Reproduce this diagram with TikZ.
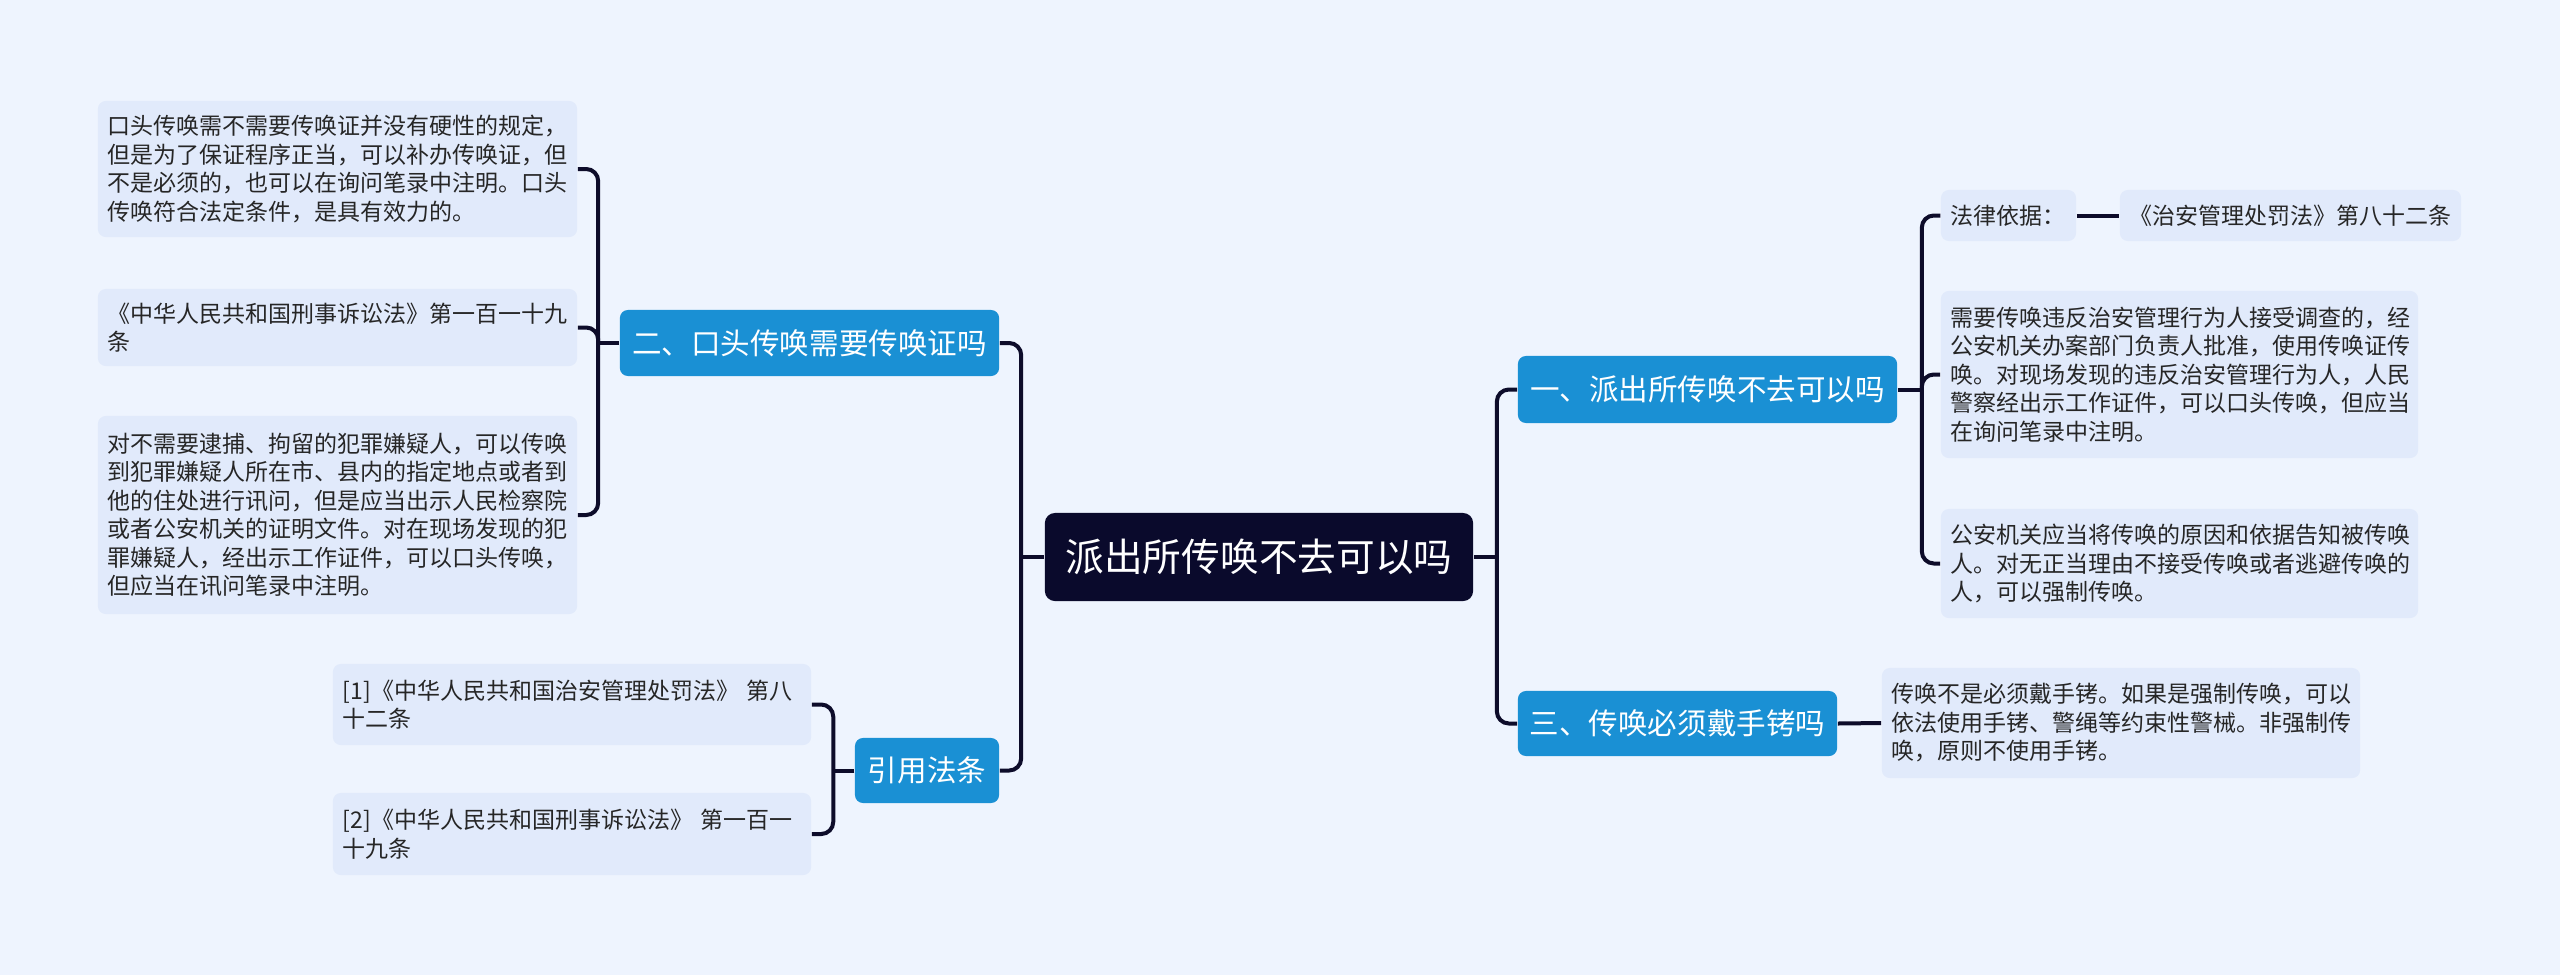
\documentclass[tikz,border=0pt]{standalone}
\usepackage{fontspec}
\newfontfamily\cjk{Noto Sans CJK SC}
\definecolor{bgblue}{HTML}{EEF4FE}
\definecolor{leafblue}{HTML}{E1EAFB}
\definecolor{branchblue}{HTML}{1A90D4}
\definecolor{rootnavy}{HTML}{0A0A2C}
\definecolor{linknavy}{HTML}{0D0C2A}
\tikzset{
	leaf/.style={fill=leafblue, text=black!85, rounded corners=0.08cm, inner xsep=0.1cm, inner ysep=0pt, align=left, font=\cjk\fontsize{6.54}{8.1}\selectfont},
	branch/.style={fill=branchblue, text=white, rounded corners=0.08cm, inner sep=0pt, font=\cjk\fontsize{8.4}{10}\selectfont},
	topic/.style={fill=rootnavy, text=white, rounded corners=0.1cm, inner sep=0pt, font=\cjk\fontsize{11}{13}\selectfont},
	link/.style={draw=linknavy, line width=0.04cm, rounded corners=0.12cm},
}
\begin{document}
\begin{tikzpicture}[x=0.01cm, y=-0.01cm]
	\fill[bgblue] (0,0) rectangle (2560,975);
	\useasboundingbox (0,0) rectangle (2560,975);

	% 中心主题
	\node[topic, minimum width=4.28cm, minimum height=0.88cm] (root) at (1259,557) {派出所传唤不去可以吗};

	% 右侧分支
	\node[branch, minimum width=3.79cm, minimum height=0.67cm] (b1) at (1707.5,389.5) {一、派出所传唤不去可以吗};
	\node[branch, minimum width=3.19cm, minimum height=0.65cm] (b3) at (1677.5,723.5) {三、传唤必须戴手铐吗};

	% 左侧分支
	\node[branch, minimum width=3.79cm, minimum height=0.66cm] (b2) at (809.5,343) {二、口头传唤需要传唤证吗};
	\node[branch, minimum width=1.44cm, minimum height=0.65cm] (b4) at (927,770.5) {引用法条};

	% 一、的子节点
	\node[leaf, text width=1.15cm, minimum height=0.51cm] (fa) at (2008.5,215.5) {法律依据：};
	\node[leaf, text width=3.21cm, minimum height=0.51cm] (zh) at (2290.5,215.5) {《治安管理处罚法》第八十二条};
	\node[leaf, text width=4.57cm, minimum height=1.67cm] (la) at (2179.5,374.5) {需要传唤违反治安管理行为人接受调查的，经\\公安机关办案部门负责人批准，使用传唤证传\\唤。对现场发现的违反治安管理行为人，人民\\警察经出示工作证件，可以口头传唤，但应当\\在询问笔录中注明。};
	\node[leaf, text width=4.57cm, minimum height=1.09cm] (lb) at (2179.5,563.5) {公安机关应当将传唤的原因和依据告知被传唤\\人。对无正当理由不接受传唤或者逃避传唤的\\人，可以强制传唤。};

	% 三、的子节点
	\node[leaf, text width=4.58cm, minimum height=1.10cm] (hc) at (2121,723) {传唤不是必须戴手铐。如果是强制传唤，可以\\依法使用手铐、警绳等约束性警械。非强制传\\唤，原则不使用手铐。};

	% 二、的子节点
	\node[leaf, text width=4.59cm, minimum height=1.36cm] (l1) at (337.5,169) {口头传唤需不需要传唤证并没有硬性的规定，\\但是为了保证程序正当，可以补办传唤证，但\\不是必须的，也可以在询问笔录中注明。口头\\传唤符合法定条件，是具有效力的。};
	\node[leaf, text width=4.59cm, minimum height=0.77cm] (l2) at (337.5,327.5) {《中华人民共和国刑事诉讼法》第一百一十九\\条};
	\node[leaf, text width=4.59cm, minimum height=1.98cm] (l3) at (337.5,515) {对不需要逮捕、拘留的犯罪嫌疑人，可以传唤\\到犯罪嫌疑人所在市、县内的指定地点或者到\\他的住处进行讯问，但是应当出示人民检察院\\或者公安机关的证明文件。对在现场发现的犯\\罪嫌疑人，经出示工作证件，可以口头传唤，\\但应当在讯问笔录中注明。};

	% 引用法条的子节点
	\node[leaf, text width=4.58cm, minimum height=0.81cm] (r1) at (572,704.5) {[1]《中华人民共和国治安管理处罚法》 第八\\十二条};
	\node[leaf, text width=4.58cm, minimum height=0.82cm] (r2) at (572,834) {[2]《中华人民共和国刑事诉讼法》 第一百一\\十九条};

	% 连线
	\coordinate (jr) at ([xshift=0.23cm]root.east);
	\coordinate (jl) at ([xshift=-0.23cm]root.west);
	\coordinate (j1) at ([xshift=0.24cm]b1.east);
	\coordinate (j2) at ([xshift=-0.21cm]b2.west);
	\coordinate (j4) at ([xshift=-0.21cm]b4.west);

	\draw[link] (root.east) -- (jr);
	\draw[link] (b1.west) -| (jr) |- (b3.west);
	\draw[link] (root.west) -- (jl);
	\draw[link] (b2.east) -| (jl) |- (b4.east);

	\draw[link] (b1.east) -- (j1);
	\draw[link] (fa.west) -| (j1) |- (lb.west);
	\draw[link] (j1) |- (la.west);
	\draw[link] (fa.east) -- (zh.west);

	\draw[link] (b3.east) -- (hc.west);

	\draw[link] (b2.west) -- (j2);
	\draw[link] (l1.east) -| (j2) |- (l3.east);
	\draw[link] (j2) |- (l2.east);

	\draw[link] (b4.west) -- (j4);
	\draw[link] (r1.east) -| (j4) |- (r2.east);
\end{tikzpicture}
\end{document}
